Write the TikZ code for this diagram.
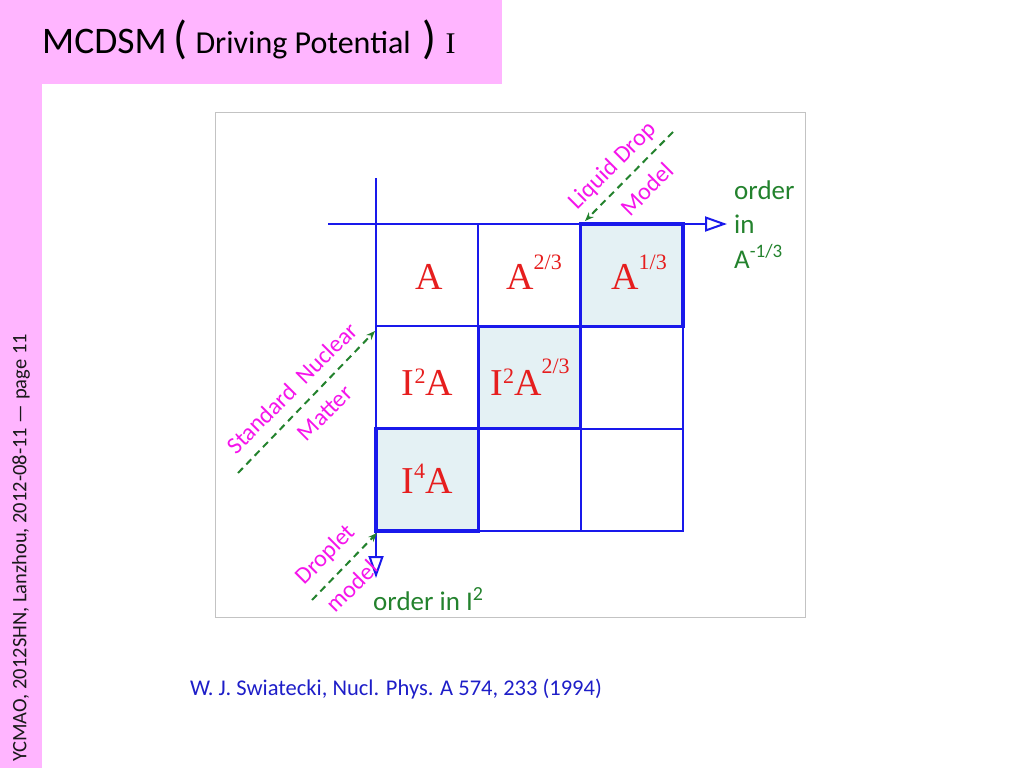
\documentclass[tikz,border=0pt]{standalone}
\usepackage{fontspec}
\setmainfont{Carlito}
\newfontfamily\tms{Liberation Serif}
\usetikzlibrary{arrows.meta}
\definecolor{pinkbg}{RGB}{255,181,255}
\definecolor{gridblue}{RGB}{25,25,235}
\definecolor{cellred}{RGB}{230,30,30}
\definecolor{lblgreen}{RGB}{35,130,45}
\definecolor{lblmag}{RGB}{245,20,235}
\definecolor{shade}{RGB}{228,241,244}
\definecolor{citeblue}{RGB}{30,30,200}
\definecolor{framegray}{RGB}{195,195,195}
\newcommand{\fs}[1]{\fontsize{#1}{#1}\selectfont}
\newcommand{\sups}[3]{\raisebox{#1pt}{\fs{#2}#3}}
\begin{document}
\begin{tikzpicture}[x=1pt,y=-1pt,
  cellbox/.style={rectangle,draw=gridblue,line width=2pt,minimum width=102.33pt,minimum height=102.33pt,inner sep=0,outer sep=0},
  shadedbox/.style={cellbox,fill=shade,line width=3.5pt},
  celltext/.style={anchor=base,inner sep=0,text=cellred,font=\tms\fs{38}},
  axisline/.style={draw=gridblue,line width=2pt,-{Triangle[open,length=22pt,width=15pt,line width=2pt]}},
  hintarrow/.style={draw=lblgreen,line width=2pt,dash pattern=on 7pt off 5pt,-{Stealth[length=9pt,width=7pt]}},
  greentext/.style={anchor=base west,inner sep=0,text=lblgreen,font=\fs{27}},
  magtext/.style={anchor=center,inner sep=0,text=lblmag,font=\fs{24},rotate=45}]
\useasboundingbox (0,0) rectangle (1024,768);
% background panels
\fill[pinkbg] (0,0) rectangle (502,84);
\fill[pinkbg] (0,84) rectangle (42,768);
\node[anchor=base west,inner sep=0] (title) at (42,54)
  {\fs{37.5}MCDSM\hspace{7pt}{\fs{46}(}\hspace{8pt}{\fs{32}Driving Potential}\hspace{12pt}{\fs{46})}\hspace{9pt}{\tms\fs{30}I}};
\node[rotate=90,inner sep=0,text={rgb,255:red,25;green,25;blue,25},font=\fs{20.5}] (side) at (21,548)
  {YCMAO, 2012SHN, Lanzhou, 2012-08-11 --- page 11};
% frame
\draw[framegray,line width=1pt] (215,112) rectangle (805,617);
% cells
\node[cellbox] (c11) at (427.17,275.17) {};
\node[cellbox] (c12) at (529.5,275.17) {};
\node[shadedbox] (c13) at (631.83,275.17) {};
\node[cellbox] (c21) at (427.17,377.5) {};
\node[shadedbox] (c22) at (529.5,377.5) {};
\node[cellbox] (c23) at (631.83,377.5) {};
\node[shadedbox] (c31) at (427.17,479.83) {};
\node[cellbox] (c32) at (529.5,479.83) {};
\node[cellbox] (c33) at (631.83,479.83) {};
% redraw shaded borders on top
\draw[gridblue,line width=3.5pt] (c13.north west) rectangle (c13.south east);
\draw[gridblue,line width=3.5pt] (c22.north west) rectangle (c22.south east);
\draw[gridblue,line width=3.5pt] (c31.north west) rectangle (c31.south east);
% axes
\coordinate (hs) at (328,224);
\coordinate (he) at (727,224);
\coordinate (vs) at (376,178);
\coordinate (ve) at (376,578);
\draw[axisline] (hs) -- (he);
\draw[axisline] (vs) -- (ve);
% cell labels
\node[celltext] (t11) at (429,289) {A};
\node[celltext] (t12) at (534,289) {A\sups{20}{22}{2/3}};
\node[celltext] (t13) at (639,289) {A\sups{20}{22}{1/3}};
\node[celltext] (t21) at (427.5,395) {I\sups{12}{22}{2}A};
\node[celltext] (t22) at (530,395) {I\sups{12}{22}{2}A\sups{22}{22}{2/3}};
\node[celltext] (t31) at (427,493) {I\sups{15}{22}{4}A};
% green axis labels
\node[greentext] (o1) at (734,199) {order};
\node[greentext] (o2) at (734,233) {in};
\node[greentext] (o3) at (734,268) {A\sups{11}{19}{-1/3}};
\node[greentext] (o4) at (373,610) {order in I\sups{10}{20}{2}};
% hint arrows
\coordinate (lds) at (673,132);
\coordinate (lde) at (585,221);
\coordinate (sns) at (238,473);
\coordinate (sne) at (375,331);
\coordinate (dms) at (312,600);
\coordinate (dme) at (377,533);
\draw[hintarrow] (lds) -- (lde);
\draw[hintarrow] (sns) -- (sne);
\draw[hintarrow] (dms) -- (dme);
% magenta labels
\node[magtext] (ld1) at (613,166) {Liquid Drop};
\node[magtext] (ld2) at (647,189) {Model};
\node[magtext] (sn1) at (292,388) {Standard\ \ Nuclear};
\node[magtext] (sn2) at (325,413) {Matter};
\node[magtext] (dm1) at (326,555) {Droplet};
\node[magtext] (dm2) at (352,586) {model};
% citation
\node[anchor=base west,inner sep=0,text=citeblue,font=\fs{22.5}] (cite) at (190,695)
  {W. J. Swiatecki, Nucl. Phys. A 574, 233 (1994)};
\end{tikzpicture}
\end{document}
